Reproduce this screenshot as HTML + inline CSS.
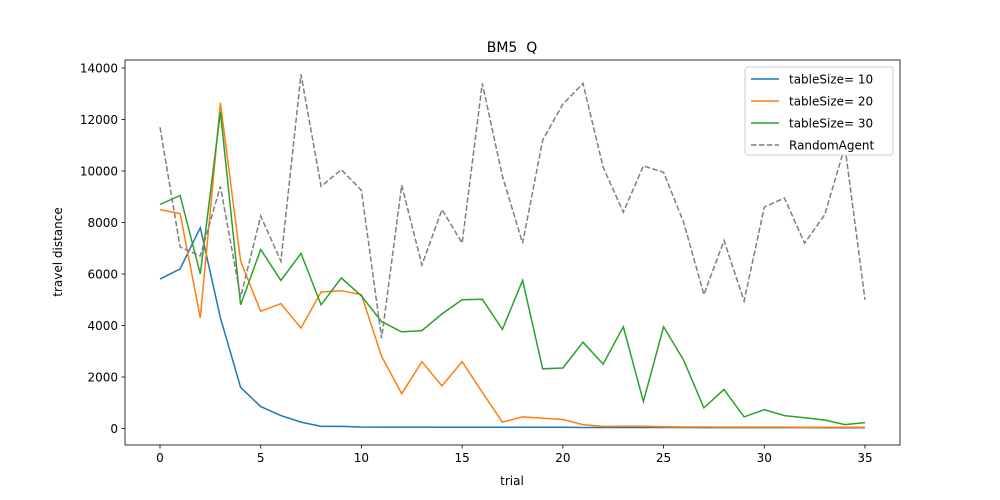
<!DOCTYPE html>
<html><head><meta charset="utf-8"><style>
body{margin:0;background:#fff;}
svg{display:block;font-family:"DejaVu Sans","Liberation Sans",sans-serif;}
</style></head><body>
<svg id="chart" width="1000" height="500"></svg>
<script>
const trials = Array.from({length:36},(_,i)=>i);
const size10 = [5800,6200,7800,4300,1600,850,500,250,80,80,60,55,55,55,50,45,45,45,45,45,45,40,40,40,40,40,40,35,35,35,35,35,35,30,30,30];
const size20 = [8500,8350,4300,12650,6500,4550,4850,3900,5300,5350,5200,2800,1350,2600,1650,2600,1400,250,450,400,350,150,80,90,90,70,60,60,55,55,55,55,50,50,50,50];
const size30 = [8700,9050,6000,12300,4800,6950,5750,6800,4800,5850,5150,4150,3750,3800,4450,5000,5020,3850,5750,2320,2350,3350,2500,3950,1050,3950,2650,800,1520,450,730,500,420,330,150,230];
const randomAgent = [11700,7050,6700,9400,5100,8250,6500,13750,9400,10050,9250,3500,9450,6350,8500,7200,13400,9800,7200,11200,12600,13400,10150,8400,10200,9950,8000,5200,7300,4950,8600,8950,7200,8300,10950,5000];
const xTicks = [0,5,10,15,20,25,30,35];
const yTicks = [0,2000,4000,6000,8000,10000,12000,14000];
const seriesNames = ["tableSize= 10","tableSize= 20","tableSize= 30","RandomAgent"];

const L=125,R=900,T=60,B=445;
const xS=v=>160+(v-0)*(865-160)/35;
const yS=v=>428.5-v*(428.5-68)/14000;
const svg=document.getElementById('chart');
const NS='http://www.w3.org/2000/svg';
function mk(tag,attrs,parent){const e=document.createElementNS(NS,tag);for(const k in attrs)e.setAttribute(k,attrs[k]);(parent||svg).appendChild(e);return e;}

const frame=mk('rect',{x:L,y:T,width:R-L,height:B-T,fill:'none',stroke:'#000','stroke-width':0.8});



xTicks.forEach(t=>{
  const x=xS(t);
  const tk=mk('line',{x1:x,x2:x,y1:B,y2:B+3.5,stroke:'#000','stroke-width':0.8});
  
  
  const tx=mk('text',{x:x,y:B+17,'text-anchor':'middle','font-size':12});
  tx.textContent=t;
  
  
});
yTicks.forEach(t=>{
  const y=yS(t);
  const tk=mk('line',{x1:L-3.5,x2:L,y1:y,y2:y,stroke:'#000','stroke-width':0.8});
  
  
  const tx=mk('text',{x:L-7,y:y+4.5,'text-anchor':'end','font-size':12});
  tx.textContent=t;
  
  
});

const colors=['#1f77b4','#ff7f0e','#2ca02c','#7f7f7f'];
const all=[size10,size20,size30,randomAgent];
all.forEach((s,i)=>{
  const d=s.map((v,j)=>(j?'L':'M')+xS(trials[j]).toFixed(1)+','+yS(v).toFixed(1)).join('');
  const p=mk('path',{d:d,fill:'none',stroke:colors[i],'stroke-width':1.5});
  if(i===3)p.setAttribute('stroke-dasharray','5.5,2.4');
  
  
});

const title=mk('text',{x:512,y:52,'text-anchor':'middle','font-size':14});
title.textContent='BM5\u00a0 Q';


const xl=mk('text',{x:512,y:485,'text-anchor':'middle','font-size':12});
xl.textContent='trial';


const yl=mk('text',{x:62,y:252,'text-anchor':'middle','font-size':12,transform:'rotate(-90 62 252)'});
yl.textContent='travel distance';



const lg=mk('rect',{x:745,y:67,width:148,height:88,fill:'#fff',stroke:'#ccc',rx:3});


seriesNames.forEach((n,i)=>{
  const y=79+i*22;
  const ln=mk('line',{x1:751,x2:779,y1:y,y2:y,stroke:colors[i],'stroke-width':1.5});
  if(i===3)ln.setAttribute('stroke-dasharray','5.5,2.4');
  
  
  const tx=mk('text',{x:789,y:y+4.5,'font-size':12});
  tx.textContent=n;
  
  
});
</script>
</body></html>
